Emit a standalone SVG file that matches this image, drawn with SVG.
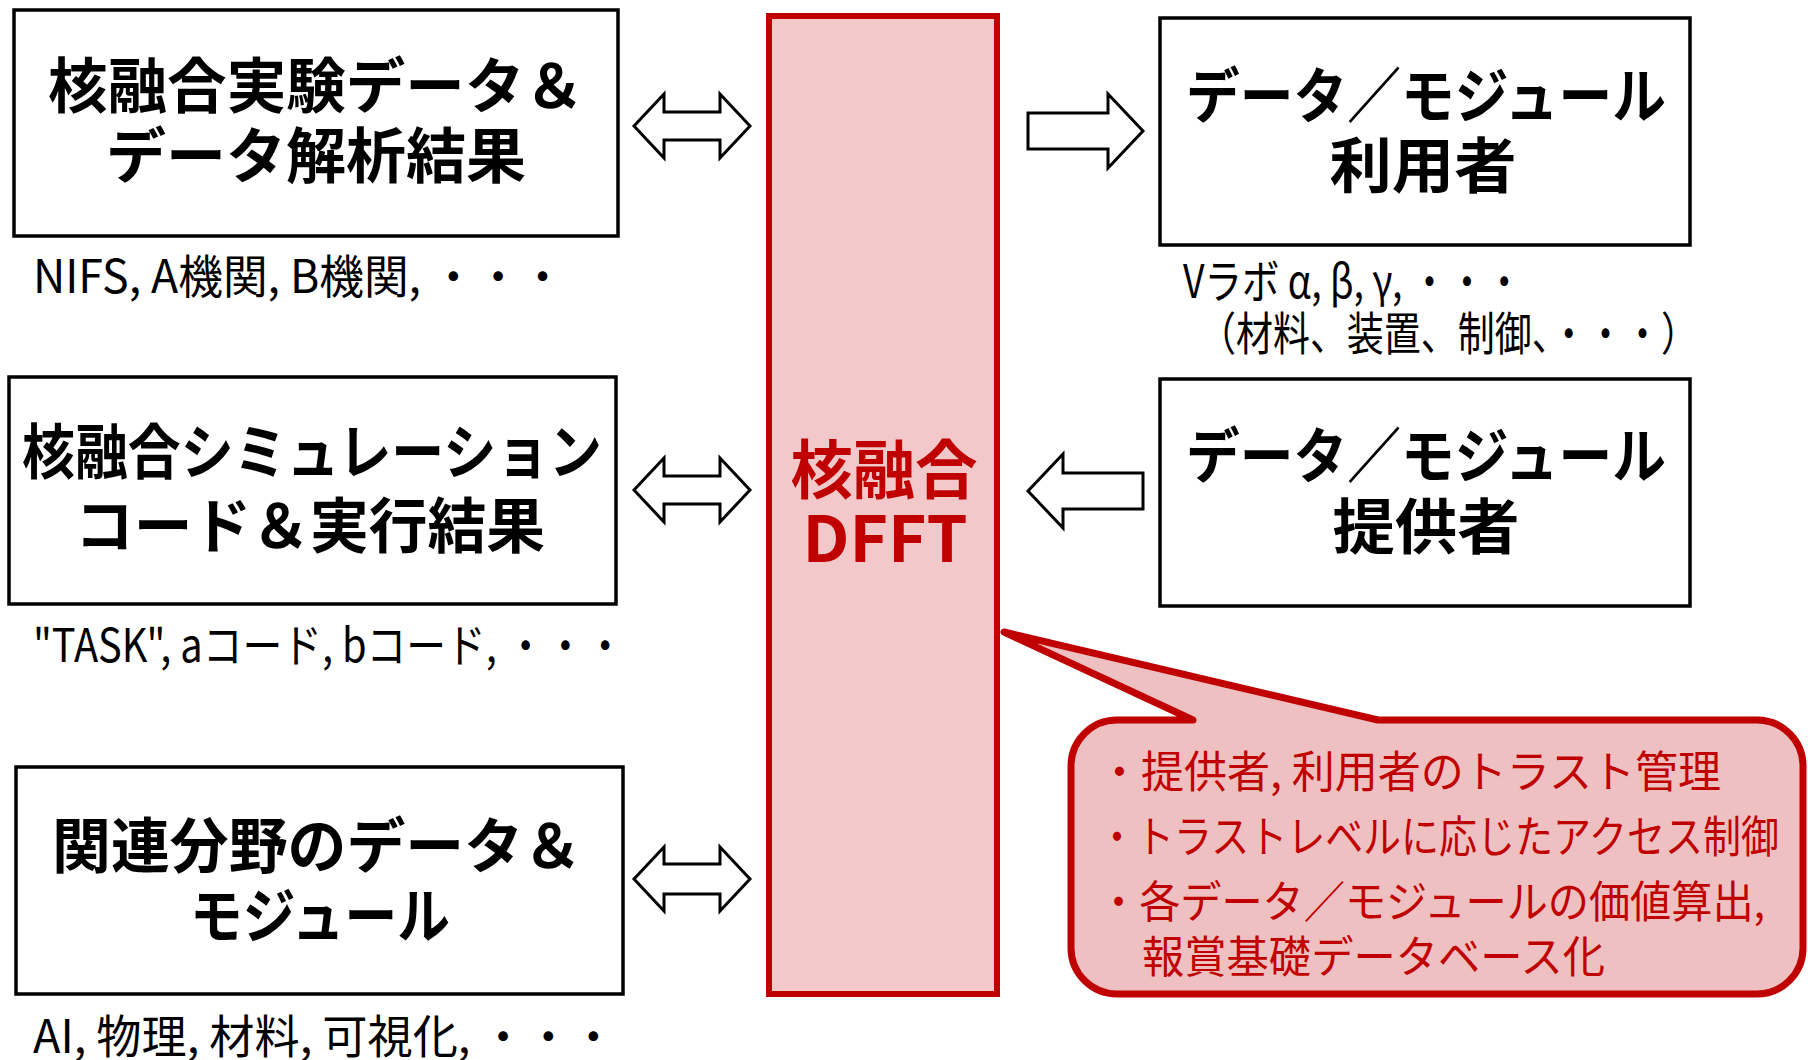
<svg xmlns="http://www.w3.org/2000/svg" width="1808" height="1060" viewBox="0 0 1808 1060">
<style>
.box{fill:#fff;stroke:#000;stroke-width:3.5}
.title{font-family:"Noto Sans CJK JP","Noto Sans",sans-serif;font-weight:700;font-size:60px;fill:#000;text-anchor:middle}
.cap{font-family:"Noto Sans CJK JP","Noto Sans",sans-serif;font-weight:400;font-size:46px;fill:#000}
.arrow{fill:#fff;stroke:#000;stroke-width:3;stroke-linejoin:miter}
.col{fill:#F2C8CA;stroke:#C00000;stroke-width:6}
.coltxt{font-family:"Noto Sans CJK JP","Noto Sans",sans-serif;font-weight:700;font-size:64px;fill:#C00000;text-anchor:middle}
.call{fill:#EFC0C1;stroke:#C00000;stroke-width:7;stroke-linejoin:round}
.calltxt{font-family:"Noto Sans CJK JP","Noto Sans",sans-serif;font-weight:400;font-size:44px;fill:#C00000}
</style>

<g id="connectors">
<polygon class="arrow" points="634,126 664,94 664,112 720,112 720,94 750,126 720,158 720,140 664,140 664,158"/>
<polygon class="arrow" points="634,490 664,458 664,476 720,476 720,458 750,490 720,522 720,504 664,504 664,522"/>
<polygon class="arrow" points="634,879 664,847 664,864 720,864 720,847 750,879 720,911 720,894 664,894 664,911"/>
<polygon class="arrow" points="1028,113 1108,113 1108,94 1143,131 1108,168 1108,149 1028,149"/>
<polygon class="arrow" points="1143,473 1063,473 1063,454 1028,491 1063,528 1063,509 1143,509"/>
</g>

<g id="node-experiment">
<rect class="box" x="14" y="10" width="604" height="226"/>
<text class="title" x="316" y="108" textLength="536" lengthAdjust="spacingAndGlyphs">核融合実験データ＆</text>
<text class="title" x="316" y="178" textLength="420" lengthAdjust="spacingAndGlyphs">データ解析結果</text>
<text class="cap" x="33" y="293" textLength="532" lengthAdjust="spacingAndGlyphs">NIFS, A機関, B機関, ・・・</text>
</g>

<g id="node-simulation">
<rect class="box" x="9" y="377" width="607" height="227"/>
<text class="title" x="312" y="474" textLength="580" lengthAdjust="spacingAndGlyphs">核融合シミュレーション</text>
<text class="title" x="310" y="548" textLength="470" lengthAdjust="spacingAndGlyphs">コード＆実行結果</text>
<text class="cap" x="33" y="662" textLength="592" lengthAdjust="spacingAndGlyphs">"TASK", aコード, bコード, ・・・</text>
</g>

<g id="node-related">
<rect class="box" x="16" y="767" width="607" height="227"/>
<text class="title" x="317" y="868" textLength="530" lengthAdjust="spacingAndGlyphs">関連分野のデータ＆</text>
<text class="title" x="320" y="938" textLength="260" lengthAdjust="spacingAndGlyphs">モジュール</text>
<text class="cap" x="33" y="1053" textLength="583" lengthAdjust="spacingAndGlyphs">AI, 物理, 材料, 可視化, ・・・</text>
</g>

<g id="node-dfft">
<rect class="col" x="769" y="16" width="228" height="978"/>
<text class="coltxt" x="884" y="493" textLength="187" lengthAdjust="spacingAndGlyphs">核融合</text>
<text class="coltxt" x="885" y="562" textLength="165" lengthAdjust="spacingAndGlyphs">DFFT</text>
</g>

<g id="node-user">
<rect class="box" x="1160" y="18" width="530" height="227"/>
<text class="title" x="1426" y="118" textLength="480" lengthAdjust="spacingAndGlyphs">データ／モジュール</text>
<text class="title" x="1423" y="188" textLength="187" lengthAdjust="spacingAndGlyphs">利用者</text>
<text class="cap" x="1183" y="298" textLength="340" lengthAdjust="spacingAndGlyphs">Vラボ α, β, γ, ・・・</text>
<text class="cap" x="1199" y="350" textLength="499" lengthAdjust="spacingAndGlyphs">（材料、装置、制御、・・・）</text>
</g>

<g id="node-provider">
<rect class="box" x="1160" y="379" width="530" height="227"/>
<text class="title" x="1426" y="478" textLength="480" lengthAdjust="spacingAndGlyphs">データ／モジュール</text>
<text class="title" x="1426" y="549" textLength="187" lengthAdjust="spacingAndGlyphs">提供者</text>
</g>

<g id="node-callout">
<path class="call" d="M1117,720 L1193,720 L1004,632 L1378,720 L1757,720 A46,46 0 0 1 1803,766 L1803,948 A46,46 0 0 1 1757,994 L1117,994 A46,46 0 0 1 1071,948 L1071,766 A46,46 0 0 1 1117,720 Z"/>
<text class="calltxt" x="1098" y="788" textLength="623" lengthAdjust="spacingAndGlyphs">・提供者, 利用者のトラスト管理</text>
<text class="calltxt" x="1098" y="853" textLength="681" lengthAdjust="spacingAndGlyphs">・トラストレベルに応じたアクセス制御</text>
<text class="calltxt" x="1098" y="918" textLength="667" lengthAdjust="spacingAndGlyphs">・各データ／モジュールの価値算出,</text>
<text class="calltxt" x="1142" y="973" textLength="463" lengthAdjust="spacingAndGlyphs">報賞基礎データベース化</text>
</g>
</svg>
